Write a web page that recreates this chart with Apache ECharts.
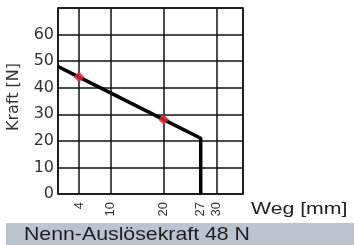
<!DOCTYPE html>
<html><head><meta charset="utf-8">
<script src="https://cdn.jsdelivr.net/npm/echarts@6/dist/echarts.min.js"></script>
<style>html,body{margin:0;padding:0;background:#fff}#c{width:354px;height:245px}</style>
</head><body><div id="c"></div>
<script>
var lineX = [0, 4, 20, 27, 27];
var lineY = [48, 44, 28, 21, 0];
var markerX = [4, 20];
var markerY = [44, 28];
var xTickLabels = [4, 10, 20, 27, 30];
var xGridValues = [0, 4, 10, 20, 30, 35];
var yTickLabels = [0, 10, 20, 30, 40, 50, 60];
var xName = 'Weg [mm]';
var yName = 'Kraft [N]';
var caption = 'Nenn-Auslösekraft 48 N';

var chart = echarts.init(document.getElementById('c'), null, {renderer: 'canvas'});
var font = 'Liberation Sans, Arial, sans-serif';
var wide = 'DejaVu Sans, sans-serif';
chart.setOption({
  animation: false,
  backgroundColor: '#fff',
  grid: {left: 58, top: 8, width: 185, height: 186, show: true, borderColor: '#111', borderWidth: 1.5,
    containLabel: false, outerBoundsMode: 'none'},
  xAxis: {
    type: 'value', min: 0, max: 35,
    axisLine: {show: false},
    axisTick: {show: false, customValues: xGridValues},
    splitLine: {show: true, lineStyle: {color: '#111', width: 1.5}},
    axisLabel: {customValues: xTickLabels, rotate: 90, color: '#333', fontSize: 13, fontFamily: font, margin: 8}
  },
  yAxis: {
    type: 'value', min: 0, max: 70, interval: 10,
    axisLine: {show: false}, axisTick: {show: false},
    splitLine: {show: true, lineStyle: {color: '#111', width: 1.5}},
    axisLabel: {color: '#333', fontSize: 16, fontFamily: wide, margin: 4,
      formatter: function (v) { return yTickLabels.indexOf(v) >= 0 ? String(v) : ''; }},
    name: yName, nameLocation: 'middle', nameGap: 36,
    nameTextStyle: {color: '#333', fontSize: 16, fontFamily: wide, padding: [0, 0, 0, 8]}
  },
  series: [{
    type: 'line', symbol: 'none',
    data: lineX.map(function (x, i) { return [x, lineY[i]]; }),
    lineStyle: {color: '#000', width: 3.5}, z: 3
  }, {
    type: 'scatter', symbol: 'diamond', symbolSize: 11,
    data: markerX.map(function (x, i) { return [x, markerY[i]]; }),
    itemStyle: {color: '#e8283c'}, z: 4
  }],
  graphic: [{
    type: 'text', x: 251, y: 201, scaleX: 1.25,
    style: {text: xName, fill: '#222', font: '17px ' + font, textVerticalAlign: 'top'}
  }, {
    type: 'rect', shape: {x: 6, y: 223, width: 348, height: 22}, style: {fill: '#b9c4cf'}
  }, {
    type: 'text', x: 24, y: 235, scaleX: 1.12,
    style: {text: caption, fill: '#1e1e1e', font: '19px ' + font, textVerticalAlign: 'middle'}
  }]
});
</script></body></html>
